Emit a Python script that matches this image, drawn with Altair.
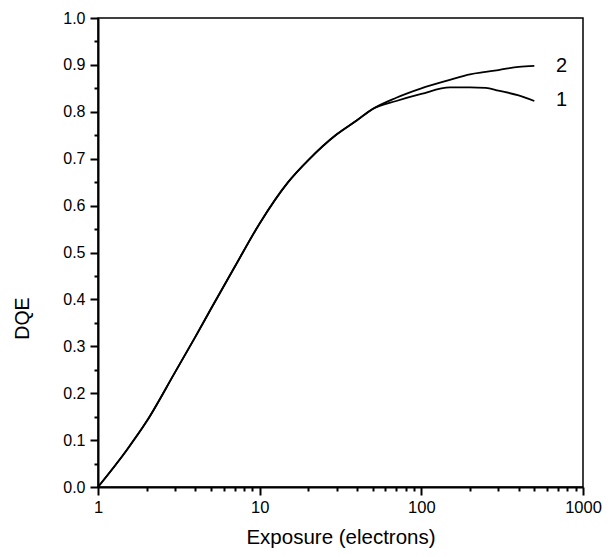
import altair as alt
import pandas as pd

exposure = [1, 1.5, 2, 3, 4, 5, 7, 10, 15, 20, 30, 40, 50, 70, 100, 150, 200, 250, 300, 400, 500]
dqe_1 = [0.0, 0.078, 0.14, 0.245, 0.32, 0.38, 0.469, 0.562, 0.65, 0.697, 0.752, 0.782, 0.806, 0.823, 0.838, 0.852, 0.852, 0.851, 0.845, 0.835, 0.823]
dqe_2 = [0.0, 0.078, 0.14, 0.245, 0.32, 0.38, 0.469, 0.562, 0.65, 0.697, 0.752, 0.782, 0.806, 0.830, 0.850, 0.868, 0.880, 0.885, 0.889, 0.896, 0.898]

curve_names = ["2", "1"]
curve_label_x = [680, 680]
curve_label_y = [0.898, 0.826]

x_major = [1, 10, 100, 1000]
x_minor = [2, 3, 4, 5, 6, 7, 8, 9,
           20, 30, 40, 50, 60, 70, 80, 90,
           200, 300, 400, 500, 600, 700, 800, 900]
y_major = [0.0, 0.1, 0.2, 0.3, 0.4, 0.5, 0.6, 0.7, 0.8, 0.9, 1.0]
y_minor = [0.05, 0.15, 0.25, 0.35, 0.45, 0.55, 0.65, 0.75, 0.85, 0.95]

rows = []
for name, ys in (("1", dqe_1), ("2", dqe_2)):
    for x, y in zip(exposure, ys):
        rows.append({"exposure": x, "dqe": y, "curve": name})
df = pd.DataFrame(rows)
labels_df = pd.DataFrame({"exposure": curve_label_x, "dqe": curve_label_y, "name": curve_names})

FONT = "Liberation Sans"

x_scale = alt.Scale(type="log", domain=[1, 1000])
y_scale = alt.Scale(domain=[0, 1])

common = dict(grid=False, domainColor="black", domainWidth=2, tickColor="black", tickWidth=2, ticks=True)

x_axis = alt.Axis(
    title="Exposure (electrons)",
    values=x_major,
    format="d",
    tickSize=8,
    labelPadding=4,
    labelFontSize=16.5,
    labelFont=FONT,
    labelColor="black",
    labelFlush=False,
    labelOverlap=False,
    titleFont=FONT,
    titleFontSize=20.5,
    titleFontWeight="normal",
    titleColor="black",
    titlePadding=12,
    **common,
)
x_axis_minor = alt.Axis(orient="bottom", values=x_minor, tickSize=4, labels=False, title=None, domain=False,
                        grid=False, tickColor="black", tickWidth=2)

y_axis = alt.Axis(
    title="DQE",
    values=y_major,
    format=".1f",
    tickSize=8,
    labelPadding=5,
    labelFontSize=16,
    labelFont=FONT,
    labelColor="black",
    labelOverlap=False,
    titleFont=FONT,
    titleFontSize=19.5,
    titleFontWeight="normal",
    titleColor="black",
    titleAngle=270,
    titleAlign="center",
    titleBaseline="middle",
    titleX=-76,
    titleY=300,
    **common,
)
y_axis_minor = alt.Axis(orient="left", values=y_minor, tickSize=4, labels=False, title=None, domain=False,
                        grid=False, tickColor="black", tickWidth=2)

lines = alt.Chart(df).mark_line(color="black", strokeWidth=1.8, interpolate="monotone").encode(
    x=alt.X("exposure:Q", scale=x_scale, axis=x_axis),
    y=alt.Y("dqe:Q", scale=y_scale, axis=y_axis),
    detail="curve:N",
)

minor_layer = alt.Chart(df).mark_line(opacity=0).encode(
    x=alt.X("exposure:Q", scale=x_scale, axis=x_axis_minor),
    y=alt.Y("dqe:Q", scale=y_scale, axis=y_axis_minor),
    detail="curve:N",
)

texts = alt.Chart(labels_df).mark_text(
    align="left", baseline="middle", fontSize=20, font=FONT, color="black"
).encode(
    x=alt.X("exposure:Q", scale=x_scale, axis=None),
    y=alt.Y("dqe:Q", scale=y_scale, axis=None),
    text="name:N",
)

chart = alt.layer(lines, minor_layer, texts).resolve_axis(x="independent", y="independent").properties(
    width=485,
    height=469,
    autosize=alt.AutoSizeParams(type="none"),
    padding={"left": 90, "top": 10, "right": 20, "bottom": 62},
    background="white",
).configure_view(stroke="black", strokeWidth=1.5)

chart.save("out.html", embed_options={"renderer": "svg", "actions": False})
